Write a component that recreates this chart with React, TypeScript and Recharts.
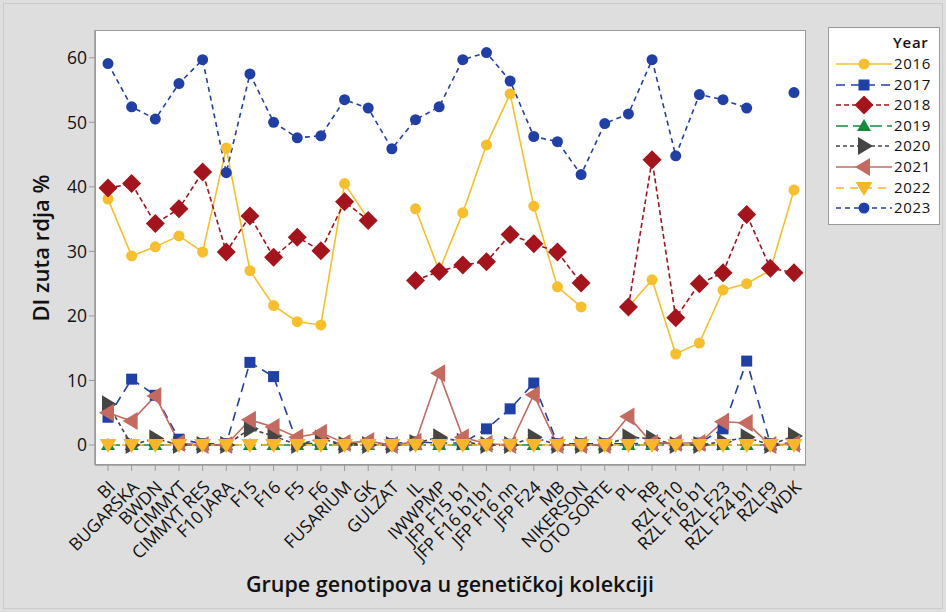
import React from 'react';
import { LineChart, Line, XAxis, YAxis } from 'recharts';

const categories = [
  'BI', 'BUGARSKA', 'BWDN', 'CIMMYT', 'CIMMYT RES', 'F10 JARA', 'F15', 'F16', 'F5', 'F6',
  'FUSARIUM', 'GK', 'GULZAT', 'IL', 'IWWPMP', 'JFP F15 b1', 'JFP F16 b1b1', 'JFP F16 nn', 'JFP F24', 'MB',
  'NIKERSON', 'OTO SORTE', 'PL', 'RB', 'RZL F10', 'RZL F16 b1', 'RZL F23', 'RZL F24 b1', 'RZLF9', 'WDK',
];

const y2016 = [38.1, 29.3, 30.7, 32.4, 29.9, 46, 27, 21.6, 19.1, 18.6, 40.5, 35, null, 36.6, 27, 36, 46.5, 54.4, 37, 24.5, 21.4, null, 21.4, 25.6, 14.1, 15.8, 24, 25, 27.1, 39.5];
const y2017 = [4.3, 10.2, 7.7, 0.9, 0.2, 0.2, 12.8, 10.6, 0.3, 0.2, 0.2, 0.2, 0.2, 0.5, 0.3, 0.3, 2.5, 5.6, 9.6, 0.2, 0.2, 0.2, 0.2, 0.3, 0.2, 0.3, 2.5, 13, 0.2, 0.3];
const y2018 = [39.8, 40.5, 34.3, 36.6, 42.3, 29.9, 35.5, 29.1, 32.2, 30.1, 37.7, 34.8, null, 25.5, 26.9, 27.9, 28.4, 32.6, 31.2, 29.9, 25.1, null, 21.4, 44.2, 19.7, 25, 26.7, 35.7, 27.4, 26.7];
const y2019 = [0, 0, 0, 0, 0, 0, 0, 0, 0, 0, 0, 0, 0, 0, 0, 0, 0, 0, 0, 0, 0, 0, 0, 0, 0, 0, 0, 0, 0, 0];
const y2020 = [6.3, 0, 1, 0, 0, 0, 2.5, 1.4, 0, 1, 0, 0, 0, 0.3, 1.2, 0.5, 0, 0, 1.2, 0, 0, 0, 1.2, 1, 0, 0, 0.5, 1.2, 0, 1.4];
const y2021 = [5, 3.7, 7.6, 0.3, 0, 0, 3.9, 2.8, 1.2, 1.9, 0.3, 0.6, 0, 0.5, 11.1, 1.2, 0.2, 0, 7.8, 0, 0, 0, 4.4, 0.3, 0.3, 0.3, 3.6, 3.4, 0, 0.2];
const y2022 = [0, 0, 0, 0, 0, 0, 0, 0, 0, 0, 0, 0, 0, 0, 0, 0, 0, 0, 0, 0, 0, 0, 0, 0, 0, 0, 0, 0, 0, 0];
const y2023 = [59.1, 52.4, 50.5, 56, 59.7, 42.2, 57.5, 50, 47.6, 47.9, 53.5, 52.2, 45.9, 50.4, 52.4, 59.7, 60.8, 56.4, 47.8, 47, 41.9, 49.8, 51.3, 59.7, 44.8, 54.3, 53.5, 52.2, null, 54.6];

const yTicks = [0, 10, 20, 30, 40, 50, 60];

const data = categories.map((name, i) => ({
  name,
  y2016: y2016[i],
  y2017: y2017[i],
  y2018: y2018[i],
  y2019: y2019[i],
  y2020: y2020[i],
  y2021: y2021[i],
  y2022: y2022[i],
  y2023: y2023[i],
}));

type Shape = 'circle' | 'square' | 'diamond' | 'up' | 'right' | 'left' | 'down';

const series: { key: string; label: string; color: string; dash?: string; shape: Shape }[] = [
  { key: 'y2016', label: '2016', color: '#f7bf2e', shape: 'circle' },
  { key: 'y2017', label: '2017', color: '#2140a6', dash: '9 6', shape: 'square' },
  { key: 'y2018', label: '2018', color: '#a3141c', dash: '5 3', shape: 'diamond' },
  { key: 'y2019', label: '2019', color: '#15893c', dash: '12 5', shape: 'up' },
  { key: 'y2020', label: '2020', color: '#454545', dash: '4 3', shape: 'right' },
  { key: 'y2021', label: '2021', color: '#c46a60', shape: 'left' },
  { key: 'y2022', label: '2022', color: '#f9b62a', dash: '8 6', shape: 'down' },
  { key: 'y2023', label: '2023', color: '#2140a6', dash: '5 4', shape: 'circle' },
];

function marker(shape: Shape, cx: number, cy: number, color: string, k?: any) {
  switch (shape) {
    case 'circle':
      return <circle key={k} cx={cx} cy={cy} r={5.5} fill={color} />;
    case 'square':
      return <rect key={k} x={cx - 5.5} y={cy - 5.5} width={11} height={11} fill={color} />;
    case 'diamond':
      return <polygon key={k} points={`${cx},${cy - 9.5} ${cx + 9.5},${cy} ${cx},${cy + 9.5} ${cx - 9.5},${cy}`} fill={color} />;
    case 'up':
      return <polygon key={k} points={`${cx},${cy - 7} ${cx + 7},${cy + 5} ${cx - 7},${cy + 5}`} fill={color} />;
    case 'down':
      return <polygon key={k} points={`${cx},${cy + 8} ${cx + 8.5},${cy - 6} ${cx - 8.5},${cy - 6}`} fill={color} />;
    case 'right':
      return <polygon key={k} points={`${cx + 9},${cy} ${cx - 6},${cy - 9} ${cx - 6},${cy + 9}`} fill={color} />;
    case 'left':
      return <polygon key={k} points={`${cx - 9},${cy} ${cx + 6},${cy - 9} ${cx + 6},${cy + 9}`} fill={color} />;
  }
}

const makeDot = (shape: Shape, color: string, key: string) => (props: any) => {
  const { cx, cy, index, payload } = props;
  if (cx == null || cy == null || payload == null || payload[key] == null) return <g key={index} />;
  return marker(shape, cx, cy, color, index);
};

const font = "'Open Sans', 'Noto Sans', sans-serif";

const XTick = (props: any) => {
  const { x, y, payload } = props;
  return (
    <text
      transform={`translate(${x + 4},${y + 11}) rotate(-45)`}
      textAnchor="end"
      dy="0.35em"
      fontSize={17.5}
      fill="#111"
      fontFamily={font}
    >
      {payload.value}
    </text>
  );
};

const legendText = { fontSize: 15, lineHeight: '17px', letterSpacing: '0.7px', color: '#111' } as const;

export default function App() {
  return (
    <div style={{ position: 'fixed', left: 0, top: 0, width: 946, height: 612, background: '#dedede', fontFamily: font }}>
      <div style={{ position: 'absolute', left: 3, top: 3, width: 940, height: 606, border: '1px solid #cbcbcb', boxSizing: 'border-box' }} />
      <div style={{ position: 'absolute', left: 95, top: 30, width: 711, height: 435, background: '#fff' }} />
      <div style={{ position: 'absolute', left: 0, top: 0 }}>
        <LineChart width={946} height={612} data={data} margin={{ top: 30, right: 140, bottom: 47, left: 35 }}>
          <XAxis
            dataKey="name"
            interval={0}
            padding={{ left: 13, right: 12 }}
            height={100}
            tick={<XTick />}
            tickSize={6}
            axisLine={{ stroke: '#9a9a9a', strokeWidth: 1.5 }}
            tickLine={{ stroke: '#9a9a9a' }}
          />
          <YAxis
            width={60}
            type="number"
            domain={[-3.1, 64.3]}
            ticks={yTicks}
            allowDataOverflow
            tickSize={6}
            tick={{ fontSize: 17.5, fill: '#111', fontFamily: font }}
            axisLine={{ stroke: '#9a9a9a', strokeWidth: 1.5 }}
            tickLine={{ stroke: '#9a9a9a' }}
          />
          {series.map((s) => (
            <Line
              key={s.key}
              dataKey={s.key}
              name={s.label}
              stroke={s.color}
              strokeWidth={1.6}
              strokeDasharray={s.dash}
              dot={makeDot(s.shape, s.color, s.key)}
              activeDot={false}
              connectNulls={false}
              isAnimationActive={false}
              type="linear"
            />
          ))}
        </LineChart>
      </div>
      <div style={{ position: 'absolute', left: 95, top: 30, width: 711, height: 435, border: '1.5px solid #9a9a9a', boxSizing: 'border-box', pointerEvents: 'none' }} />
      <div
        style={{
          position: 'absolute', left: 40, top: 248, transform: 'translate(-50%, -50%) rotate(-90deg)',
          fontSize: 22, fontWeight: 600, color: '#111', whiteSpace: 'nowrap',
        }}
      >
        DI zuta rdja %
      </div>
      <div
        style={{
          position: 'absolute', left: 450, top: 583, transform: 'translate(-50%, -50%)',
          fontSize: 21.5, fontWeight: 600, color: '#111', whiteSpace: 'nowrap',
        }}
      >
        Grupe genotipova u genetičkoj kolekciji
      </div>
      <div style={{ position: 'absolute', left: 828, top: 27, width: 112, height: 198, background: '#fff', border: '1.5px solid #9a9a9a', boxSizing: 'border-box' }}>
        <div style={{ position: 'absolute', left: 64, top: 6, ...legendText, fontWeight: 600 }}>Year</div>
        {series.map((s, i) => (
          <div key={s.key} style={{ position: 'absolute', left: 0, top: 27 + i * 20.6, height: 18, width: 110 }}>
            <svg width={60} height={18} style={{ position: 'absolute', left: 5, top: 0 }}>
              <line x1={2} y1={9} x2={58} y2={9} stroke={s.color} strokeWidth={1.6} strokeDasharray={s.dash} />
              {marker(s.shape, 30, 9, s.color)}
            </svg>
            <div style={{ position: 'absolute', left: 65, top: 0, ...legendText }}>{s.label}</div>
          </div>
        ))}
      </div>
    </div>
  );
}
